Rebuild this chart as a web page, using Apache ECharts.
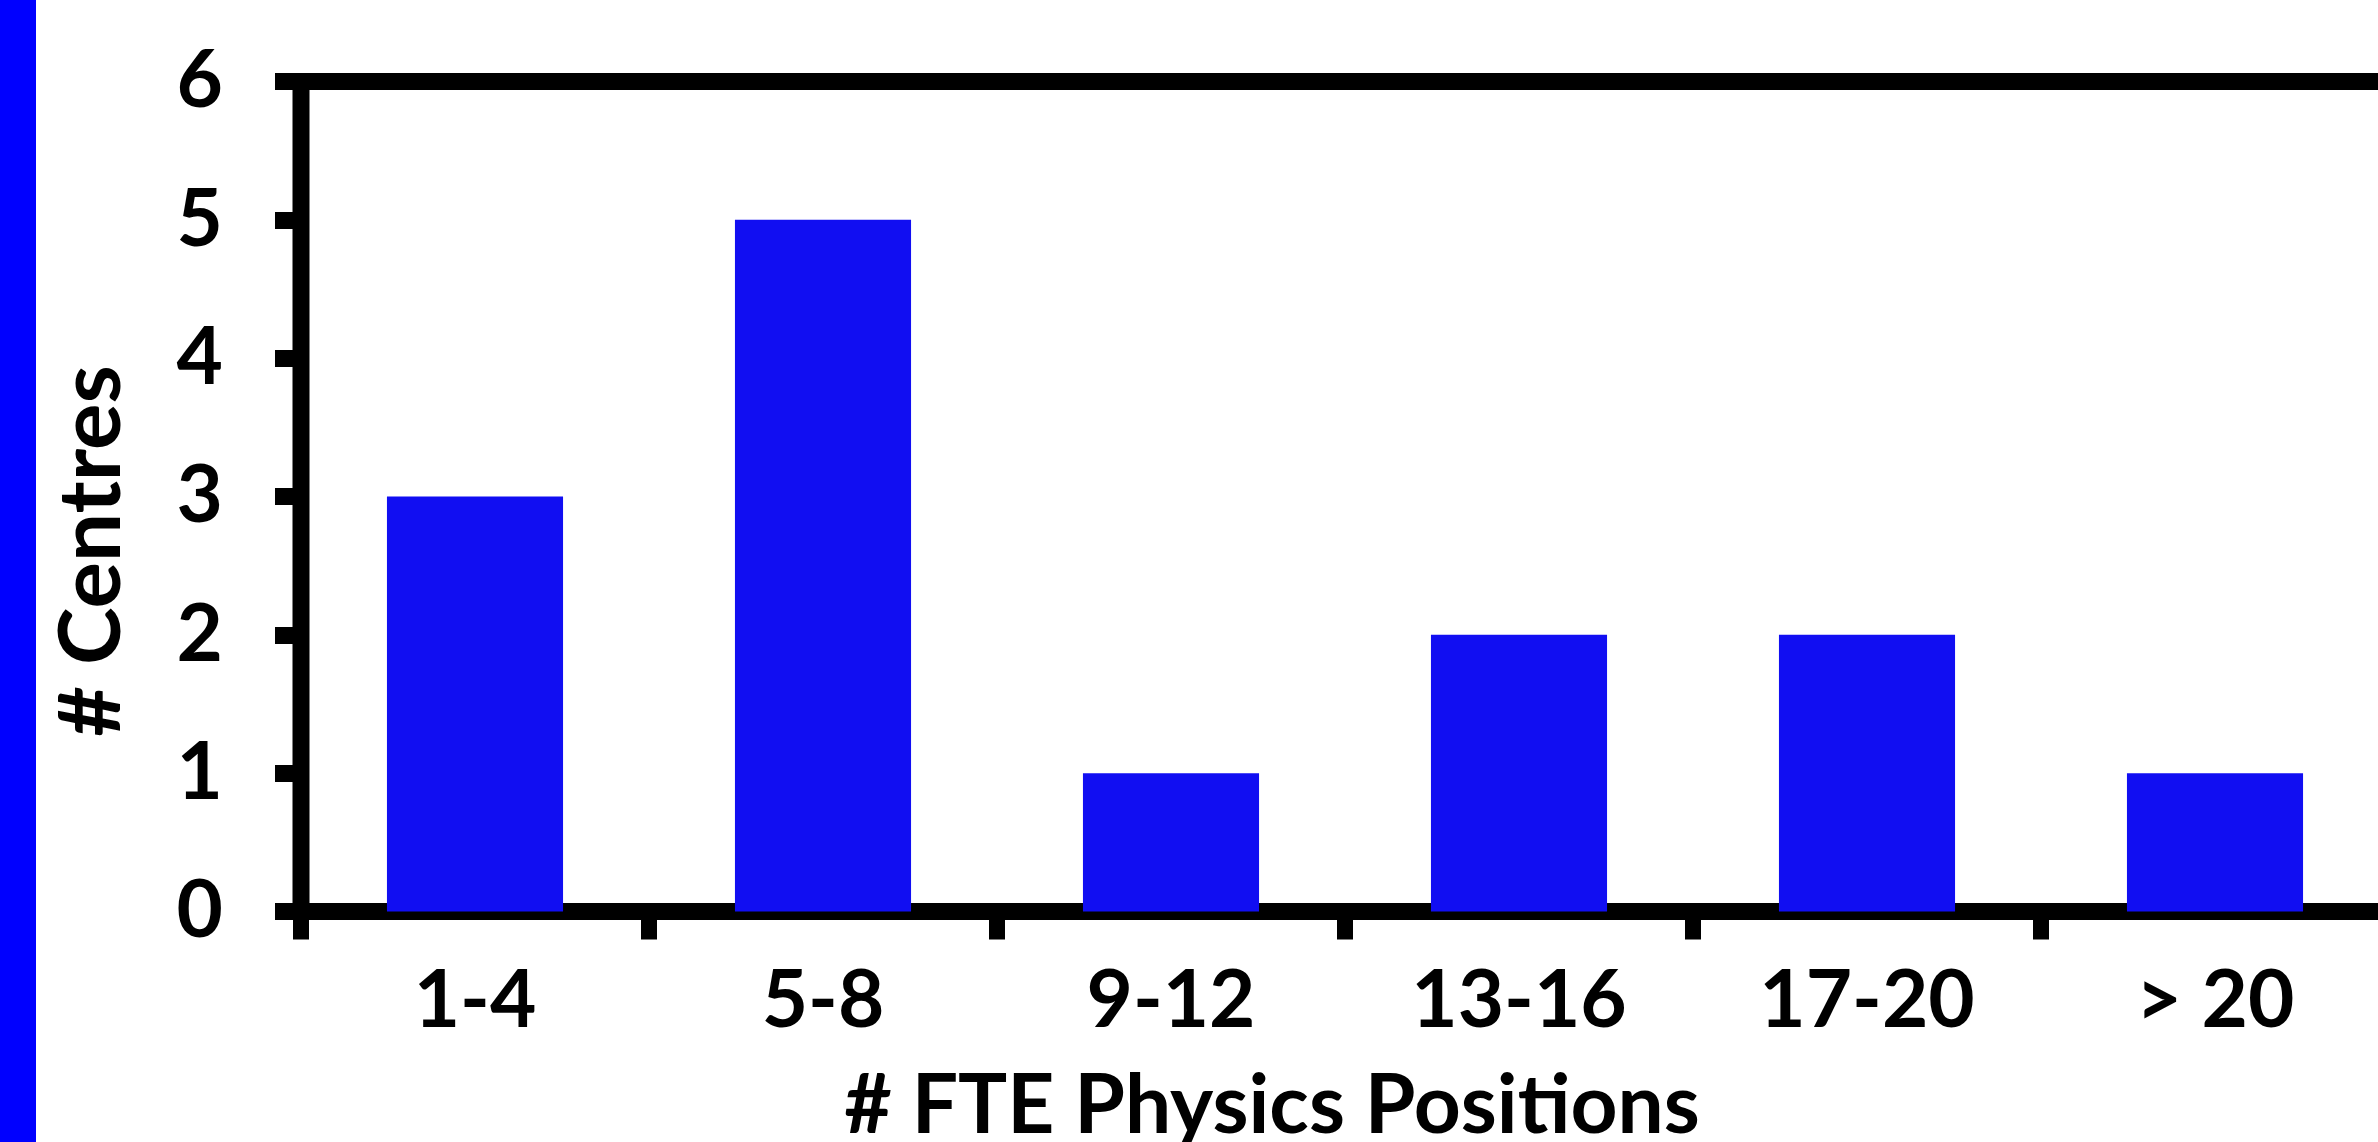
<!DOCTYPE html>
<html>
<head>
<meta charset="utf-8">
<style>
  html, body { margin: 0; padding: 0; background: #ffffff; }
  #chart { width: 2378px; height: 1142px; }
</style>
<script src="https://cdn.jsdelivr.net/npm/echarts@6/dist/echarts.min.js"></script>
</head>
<body>
<div id="chart"></div>
<script>
// Number of centres by FTE physics staffing band
const categories = ['1-4', '5-8', '9-12', '13-16', '17-20', '> 20'];
const centres = [3, 5, 1, 2, 2, 1];
const yTicks = [0, 1, 2, 3, 4, 5, 6];

const xTitle = '# FTE Physics Positions';
const yTitle = '# Centres';

const FONT = 'Lato, "Open Sans", sans-serif';
const INK = '#000000';

const chart = echarts.init(document.getElementById('chart'), null, { renderer: 'canvas' });

chart.setOption({
  animation: false,
  backgroundColor: '#ffffff',
  grid: {
    left: 301,
    top: 81.5,
    width: 2088,
    height: 830,
    // the plot runs past the right edge of the canvas on purpose
    outerBoundsMode: 'none',
    containLabel: false,
    show: true,
    borderColor: INK,
    borderWidth: 17,
    backgroundColor: 'transparent'
  },
  xAxis: {
    type: 'category',
    data: categories,
    boundaryGap: true,
    axisLine: { show: true, lineStyle: { color: INK, width: 17 } },
    axisTick: { show: true, alignWithLabel: false, interval: 0, length: 28, lineStyle: { color: INK, width: 16 } },
    axisLabel: {
      interval: 0,
      margin: 50,
      color: INK,
      fontFamily: FONT,
      fontWeight: 'bold',
      fontSize: 80
    },
    splitLine: { show: false }
  },
  yAxis: {
    type: 'value',
    min: yTicks[0],
    max: yTicks[yTicks.length - 1],
    interval: 1,
    axisLine: { show: true, lineStyle: { color: INK, width: 16 } },
    axisTick: { show: true, length: 26, lineStyle: { color: INK, width: 17 } },
    axisLabel: {
      margin: 78,
      color: INK,
      fontFamily: FONT,
      fontWeight: 'bold',
      fontSize: 80
    },
    splitLine: { show: false }
  },
  series: [{
    type: 'bar',
    data: centres,
    barWidth: '50.6%',
    itemStyle: { color: '#110EF2' },
    z: 1
  }],
  graphic: [
    {
      type: 'rect',
      left: 0,
      top: 0,
      shape: { width: 36, height: 1142 },
      style: { fill: '#0000FF' }
    },
    {
      type: 'text',
      x: 1272,
      y: 1107,
      style: {
        text: xTitle,
        font: 'bold 82px ' + FONT,
        fill: INK,
        textAlign: 'center',
        textVerticalAlign: 'middle'
      }
    },
    {
      type: 'text',
      x: 92,
      y: 551,
      rotation: Math.PI / 2,
      style: {
        text: yTitle,
        font: 'bold 87px ' + FONT,
        fill: INK,
        textAlign: 'center',
        textVerticalAlign: 'middle'
      }
    }
  ]
});
</script>
</body>
</html>
